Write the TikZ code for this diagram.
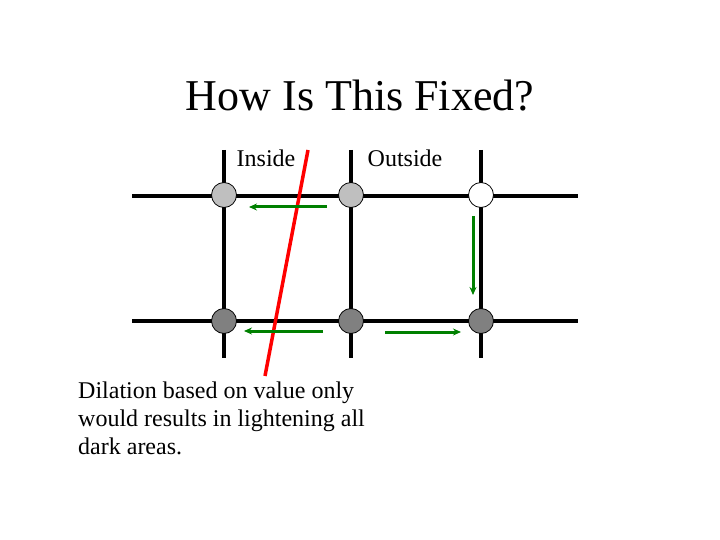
\documentclass[tikz,border=0pt]{standalone}
\usepackage{fontspec}
\setmainfont{Liberation Serif}
\usetikzlibrary{arrows.meta}
\tikzset{
  grid line/.style={line width=3.5pt,black},
  dot/.style={circle,draw=black,line width=0.8pt,minimum size=25pt,inner sep=0pt},
  move/.style={-{Stealth[length=8pt,width=7pt]},line width=3pt,draw=green!50!black}
}
\begin{document}
\begin{tikzpicture}[x=1pt,y=-1pt]
		\useasboundingbox (0,0) rectangle (720,540);
		\node[font=\fontsize{44}{48}\selectfont] (title) at (360,96) {How Is This Fixed?};
		\coordinate (h1l) at (132,196); \coordinate (h1r) at (578,196);
		\coordinate (h2l) at (132,321); \coordinate (h2r) at (578,321);
		\draw[grid line] (h1l) -- (h1r);
		\draw[grid line] (h2l) -- (h2r);
		\foreach \x/\n in {224/a,351/b,481/c} {
			\coordinate (\n t) at (\x,150);
			\coordinate (\n b) at (\x,358);
			\draw[grid line] (\n t) -- (\n b);
		}
		\node[dot,fill=black!25] (p1) at (224,195) {};
		\node[dot,fill=black!25] (p2) at (351,195) {};
		\node[dot,fill=white] (p3) at (481,195) {};
		\node[dot,fill=black!50] (q1) at (224,321) {};
		\node[dot,fill=black!50] (q2) at (351,321) {};
		\node[dot,fill=black!50] (q3) at (481,321) {};
		\coordinate (r1) at (308,150); \coordinate (r2) at (265,376);
		\draw[line width=3.5pt,red] (r1) -- (r2);
		\coordinate (m1s) at (327,207); \coordinate (m1e) at (249,207);
		\coordinate (m2s) at (323,331); \coordinate (m2e) at (244,331);
		\coordinate (m3s) at (385,332); \coordinate (m3e) at (461,332);
		\coordinate (m4s) at (473,216); \coordinate (m4e) at (473,295);
		\draw[move] (m1s) -- (m1e);
		\draw[move] (m2s) -- (m2e);
		\draw[move] (m3s) -- (m3e);
		\draw[move] (m4s) -- (m4e);
		\node[font=\fontsize{24}{28}\selectfont] (inside) at (266,158) {Inside};
		\node[font=\fontsize{24}{28}\selectfont] (outside) at (405,158) {Outside};
		\node[anchor=north west,align=left,inner sep=0pt,font=\fontsize{24}{28}\selectfont] (note) at (78,382)
			{Dilation based on value only\\would results in lightening all\\dark areas.};
	\end{tikzpicture}
\end{document}
